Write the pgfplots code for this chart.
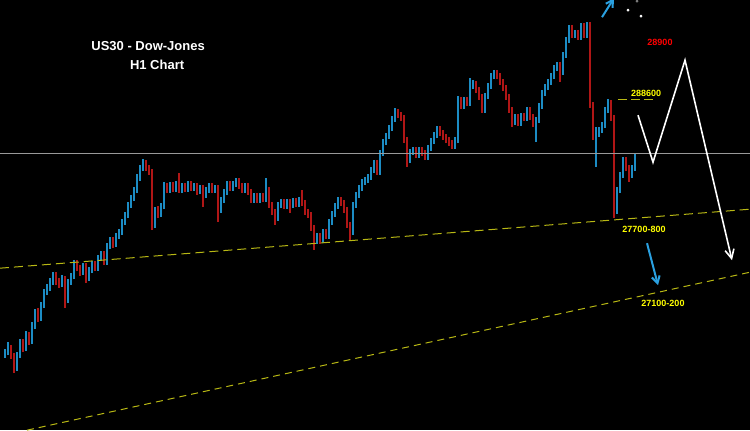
\documentclass[border=0pt]{standalone}
\usepackage{pgfplots}
\pgfplotsset{compat=1.18}
\usepackage{pgfplotstable}
\usetikzlibrary{arrows.meta}
\usepackage{fontspec}
\setmainfont{Liberation Sans}

\definecolor{upc}{HTML}{1C8CC4}
\definecolor{dnc}{HTML}{B01616}
\definecolor{trend}{HTML}{B8B814}
\definecolor{lbl}{HTML}{FFFF00}
\definecolor{arr}{HTML}{2AA0E0}

% H1 candles: n o h l c
\pgfplotstableread{
n o h l c
0 26450 26510 26420 26480
1 26480 26580 26450 26520
2 26520 26550 26410 26440
3 26440 26470 26270 26320
4 26320 26480 26290 26450
5 26450 26610 26420 26580
6 26580 26610 26480 26520
7 26520 26690 26490 26650
8 26650 26680 26550 26590
9 26590 26780 26560 26740
10 26740 26910 26710 26880
11 26880 26920 26780 26820
12 26820 26980 26790 26950
13 26950 27110 26920 27080
14 27080 27160 27050 27120
15 27120 27220 27090 27180
16 27180 27280 27150 27250
17 27250 27280 27150 27190
18 27190 27220 27120 27160
19 27160 27250 27130 27220
20 27220 27240 26920 27000
21 27000 27210 26970 27180
22 27180 27270 27150 27240
23 27240 27400 27210 27370
24 27370 27400 27290 27320
25 27320 27350 27240 27280
26 27280 27370 27250 27340
27 27340 27370 27170 27220
28 27220 27330 27190 27300
29 27300 27390 27270 27360
30 27360 27390 27290 27320
31 27320 27450 27290 27420
32 27420 27490 27390 27460
33 27460 27490 27350 27380
34 27380 27570 27350 27540
35 27540 27630 27510 27600
36 27600 27630 27520 27560
37 27560 27670 27530 27640
38 27640 27710 27610 27680
39 27680 27810 27650 27780
40 27780 27880 27750 27850
41 27850 27980 27820 27950
42 27950 28050 27920 28020
43 28020 28130 27990 28100
44 28100 28260 28070 28220
45 28220 28350 28190 28320
46 28320 28410 28290 28370
47 28370 28400 28290 28320
48 28320 28350 28250 28280
49 28280 28310 27700 27750
50 27750 27930 27720 27900
51 27900 27940 27820 27860
52 27860 27970 27830 27940
53 27940 28180 27910 28140
54 28140 28170 28070 28100
55 28100 28180 28070 28150
56 28150 28180 28080 28110
57 28110 28190 28080 28160
58 28160 28270 28070 28100
59 28100 28170 28070 28140
60 28140 28170 28080 28110
61 28110 28190 28080 28160
62 28160 28190 28090 28120
63 28120 28170 28090 28140
64 28140 28170 28050 28090
65 28090 28150 28060 28120
66 28120 28150 27930 28050
67 28050 28130 28020 28100
68 28100 28170 28070 28140
69 28140 28170 28070 28100
70 28100 28150 28070 28120
71 28120 28150 27780 27900
72 27900 28030 27870 28000
73 28000 28110 27970 28080
74 28080 28190 28050 28160
75 28160 28190 28090 28120
76 28120 28190 28090 28160
77 28160 28220 28130 28190
78 28190 28220 28110 28140
79 28140 28170 28070 28100
80 28100 28170 28070 28140
81 28140 28170 28050 28080
82 28080 28110 27970 28000
83 28000 28070 27970 28040
84 28040 28070 27970 28000
85 28000 28070 27970 28040
86 28040 28070 27980 28010
87 28010 28220 27980 28100
88 28100 28130 27920 27950
89 27950 27980 27850 27880
90 27880 27910 27750 27820
91 27820 27980 27790 27950
92 27950 28010 27920 27980
93 27980 28010 27910 27940
94 27940 28010 27910 27980
95 27980 28010 27870 27950
96 27950 28020 27920 27990
97 27990 28020 27930 27960
98 27960 28030 27930 28000
99 28000 28100 27940 27970
100 27970 28000 27850 27880
101 27880 27910 27820 27850
102 27850 27880 27690 27720
103 27720 27750 27500 27600
104 27600 27670 27560 27640
105 27640 27670 27560 27600
106 27600 27710 27570 27680
107 27680 27710 27610 27640
108 27640 27810 27610 27780
109 27780 27890 27750 27860
110 27860 27970 27830 27940
111 27940 28030 27910 28000
112 28000 28030 27940 27970
113 27970 28000 27870 27900
114 27900 27930 27720 27750
115 27750 27780 27600 27680
116 27680 27980 27650 27950
117 27950 28080 27920 28050
118 28050 28150 28020 28120
119 28120 28210 28090 28180
120 28180 28230 28150 28200
121 28200 28260 28170 28230
122 28230 28330 28200 28300
123 28300 28400 28270 28370
124 28370 28400 28250 28280
125 28280 28500 28250 28470
126 28470 28610 28440 28580
127 28580 28670 28550 28640
128 28640 28750 28610 28720
129 28720 28840 28690 28810
130 28810 28920 28780 28880
131 28880 28910 28820 28850
132 28850 28880 28790 28820
133 28820 28850 28570 28600
134 28600 28630 28330 28400
135 28400 28510 28370 28480
136 28480 28530 28450 28500
137 28500 28530 28420 28450
138 28450 28530 28420 28500
139 28500 28530 28440 28470
140 28470 28500 28400 28430
141 28430 28550 28400 28520
142 28520 28620 28490 28590
143 28590 28680 28560 28650
144 28650 28740 28620 28710
145 28710 28740 28640 28670
146 28670 28700 28600 28630
147 28630 28660 28570 28600
148 28600 28630 28540 28570
149 28570 28600 28510 28540
150 28540 28630 28510 28600
151 28600 29040 28570 29000
152 29000 29030 28910 28940
153 28940 29030 28910 29000
154 29000 29030 28940 28970
155 28970 29220 28940 29140
156 29140 29200 29110 29160
157 29160 29190 29070 29100
158 29100 29130 29000 29030
159 29030 29060 28870 28900
160 28900 29070 28870 29040
161 29040 29170 29010 29140
162 29140 29270 29110 29240
163 29240 29300 29210 29270
164 29270 29300 29210 29240
165 29240 29270 29150 29180
166 29180 29210 29090 29120
167 29120 29150 29000 29030
168 29030 29060 28870 28900
169 28900 28930 28730 28780
170 28780 28860 28750 28830
171 28830 28860 28740 28770
172 28770 28870 28740 28840
173 28840 28870 28790 28820
174 28820 28930 28790 28900
175 28900 28930 28800 28830
176 28830 28860 28730 28760
177 28760 28830 28580 28800
178 28800 28970 28770 28940
179 28940 29100 28910 29070
180 29070 29160 29040 29130
181 29130 29210 29100 29180
182 29180 29270 29150 29240
183 29240 29350 29210 29320
184 29320 29380 29290 29350
185 29350 29380 29180 29280
186 29280 29480 29250 29450
187 29450 29630 29420 29600
188 29600 29750 29570 29720
189 29720 29750 29620 29650
190 29650 29700 29620 29670
191 29670 29700 29600 29630
192 29630 29770 29600 29740
193 29740 29770 29620 29650
194 29650 29780 29620 29750
195 29750 29780 28920 28950
196 28950 28980 28600 28650
197 28650 28730 28330 28680
198 28680 28730 28630 28700
199 28700 28780 28670 28750
200 28750 28930 28720 28900
201 28900 29010 28870 28970
202 28970 29000 28790 28820
203 28820 28850 27820 27900
204 27900 28130 27860 28100
205 28100 28280 28070 28250
206 28250 28430 28220 28400
207 28400 28430 28290 28320
208 28320 28350 28180 28250
209 28250 28350 28220 28320
210 28320 28470 28290 28400
}\candles

\begin{document}
\begin{tikzpicture}
\begin{axis}[
  width=750pt, height=430pt, scale only axis,
  xmin=-1.667, xmax=248.333,
  ymin=25700, ymax=30000,
  axis background/.style={fill=black},
  axis line style={draw=none},
  ticks=none,
  clip=true,
]
% wicks
\addplot[draw=none, mark=none, forget plot,
  restrict expr to domain={\thisrow{c}-\thisrow{o}}{0:100000},
  error bars/.cd, y dir=both, y explicit, error mark=none,
  error bar style={line width=1.1pt, draw=upc, solid}]
  table[x=n, y expr={(\thisrow{h}+\thisrow{l})/2}, y error expr={(\thisrow{h}-\thisrow{l})/2}] {\candles};
\addplot[draw=none, mark=none, forget plot,
  restrict expr to domain={\thisrow{c}-\thisrow{o}}{-100000:-0.5},
  error bars/.cd, y dir=both, y explicit, error mark=none,
  error bar style={line width=1.1pt, draw=dnc, solid}]
  table[x=n, y expr={(\thisrow{h}+\thisrow{l})/2}, y error expr={(\thisrow{h}-\thisrow{l})/2}] {\candles};
% bodies
\addplot[draw=none, mark=none, forget plot,
  restrict expr to domain={\thisrow{c}-\thisrow{o}}{0:100000},
  error bars/.cd, y dir=both, y explicit, error mark=none,
  error bar style={line width=2.7pt, draw=upc, solid}]
  table[x=n, y expr={(\thisrow{o}+\thisrow{c})/2}, y error expr={abs(\thisrow{c}-\thisrow{o})/2}] {\candles};
\addplot[draw=none, mark=none, forget plot,
  restrict expr to domain={\thisrow{c}-\thisrow{o}}{-100000:-0.5},
  error bars/.cd, y dir=both, y explicit, error mark=none,
  error bar style={line width=2.7pt, draw=dnc, solid}]
  table[x=n, y expr={(\thisrow{o}+\thisrow{c})/2}, y error expr={abs(\thisrow{c}-\thisrow{o})/2}] {\candles};

% current price line
\addplot[color=gray!80, line width=0.8pt] coordinates {(-2,28470) (249,28470)};
% trend lines
\addplot[color=trend, line width=1pt, dash pattern=on 9pt off 5pt] coordinates {(-1.667,27320) (248.333,27910)};
\addplot[color=trend, line width=1pt, dash pattern=on 7pt off 5pt] coordinates {(7.33,25700) (248.333,27280)};
\addplot[color=trend, line width=1.3pt, dash pattern=on 9pt off 4pt] coordinates {(204.33,29010) (217,29010)};
% projected path
\addplot[color=white, line width=1.6pt, -{Straight Barb[length=9pt,width=9pt]}]
  coordinates {(211,28850) (216,28380) (226.67,29400) (242.33,27400)};
% blue arrows
\addplot[color=arr, line width=2pt, -{Straight Barb[length=7pt,width=8pt]}]
  coordinates {(214,27570) (217.67,27150)};
\addplot[color=arr, line width=2pt, -{Straight Barb[length=7pt,width=8pt]}]
  coordinates {(199,29830) (203,30020)};
\addplot[only marks, mark=*, mark size=1.2pt, color=white] coordinates {(207.67,29900) (212,29840)};
\addplot[only marks, mark=*, mark size=1.2pt, color=gray] coordinates {(210.67,29990)};

% labels
\node[text=white, font=\fontsize{13}{15}\selectfont\bfseries] at (axis cs:47.7,29540) {US30 - Dow-Jones};
\node[text=white, font=\fontsize{13}{15}\selectfont\bfseries] at (axis cs:50.7,29350) {H1 Chart};
\node[text=red, font=\fontsize{9}{10}\selectfont\bfseries] at (axis cs:218.33,29580) {28900};
\node[text=lbl, font=\fontsize{9}{10}\selectfont\bfseries] at (axis cs:213.67,29070) {288600};
\node[text=lbl, font=\fontsize{9}{10}\selectfont\bfseries] at (axis cs:213,27710) {27700-800};
\node[text=lbl, font=\fontsize{9}{10}\selectfont\bfseries] at (axis cs:219.33,26970) {27100-200};
\end{axis}
\end{tikzpicture}
\end{document}
